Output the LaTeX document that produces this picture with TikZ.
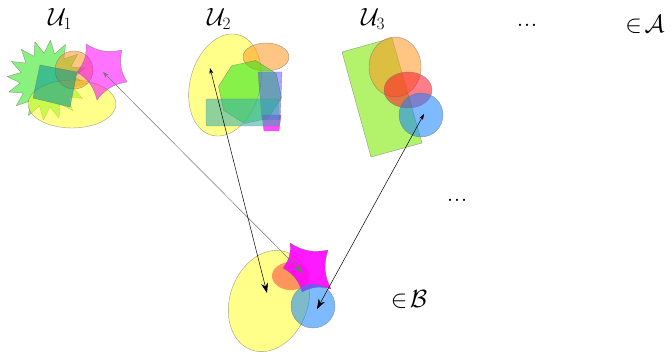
\documentclass[tikz,border=0pt]{standalone}
\usetikzlibrary{arrows.meta,shapes.geometric}
\begin{document}
\begin{tikzpicture}[x=1pt,y=-1pt,
  sh/.style={draw=black!55,line width=0.4pt,fill opacity=0.55,draw opacity=0.7},
  lab/.style={font=\fontsize{24}{28}\selectfont,inner sep=0pt},
  dots/.style={font=\fontsize{28}{30}\selectfont,inner sep=0pt},
  link/.style={line width=0.5pt,{Stealth[length=6pt,width=4pt]}-{Stealth[length=10pt,width=7pt]}}]
\useasboundingbox (0,0) rectangle (672,352);
\definecolor{cyel}{RGB}{255,255,40}
\definecolor{cgrn}{RGB}{40,230,20}
\definecolor{cteal}{RGB}{0,150,150}
\definecolor{corg}{RGB}{255,150,30}
\definecolor{cmag}{RGB}{255,0,255}
\definecolor{cblu}{RGB}{20,130,255}
\definecolor{cred}{RGB}{255,20,40}
\definecolor{clime}{RGB}{160,240,70}
\definecolor{cpur}{RGB}{70,60,255}
% ---------- U1 ----------
\draw[sh,fill=cgrn] plot[samples at={0,...,31},variable=\i]
  ({47+((mod(\i,2)==0)*13+27)*cos(\i*11.25+5)},{80+((mod(\i,2)==0)*13+27)*sin(\i*11.25+5)}) -- cycle;
\draw[sh,fill=cyel] (72,104) ellipse [x radius=44, y radius=24];
\draw[sh,fill=corg] (74,70) circle [radius=19];
\draw[sh,fill=cteal] (40,65) -- (77,72) -- (70,107) -- (33,98) -- cycle;
\draw[sh,fill=cmag] (86,44) to[bend right=22] (122,50) to[bend right=22] (127,82)
  to[bend right=22] (97,100) to[bend right=22] (77,72) to[bend right=22] cycle;
\coordinate (a1) at (103,72);
% ---------- U2 ----------
\draw[sh,fill=cyel,rotate around={-15:(225,85)}] (225,85) ellipse [x radius=35, y radius=52];
\draw[sh,fill=corg] (266,57) ellipse [x radius=23, y radius=14];
\draw[sh,fill=cgrn] (250,92) +(10:32) -- +(55:32) -- +(100:32) -- +(145:32)
  -- +(190:32) -- +(235:32) -- +(280:32) -- +(325:32) -- cycle;
\draw[sh,fill=cmag,fill opacity=0.7] (262,115) -- (281,115) -- (279,131) -- (264,131) -- cycle;
\draw[sh,fill=cpur,fill opacity=0.45] (258,72) -- (282,72) -- (280,120) -- (262,120) -- cycle;
\draw[sh,fill=cteal!80!white,rounded corners=2pt] (206,99) rectangle (279,126);
\coordinate (a2) at (210,68);
% ---------- U3 ----------
\draw[sh,fill=clime,fill opacity=0.8] (342,52) -- (392,38) -- (422,143) -- (371,157) -- cycle;
\draw[sh,fill=corg] (395,67) ellipse [x radius=26, y radius=30];
\draw[sh,fill=cred] (408,90) ellipse [x radius=24, y radius=18];
\draw[sh,fill=cblu] (421,115) circle [radius=22];
\coordinate (a3) at (424,114);
% ---------- B ----------
\draw[sh,fill=cyel,rotate around={-20:(269,301)}] (269,301) ellipse [x radius=39, y radius=52];
\draw[sh,fill=cred,draw=none,fill opacity=0.45] (291,276) ellipse [x radius=19, y radius=14];
\draw[sh,fill=cmag,fill opacity=0.9] (290,243) to[bend right=22] (328,250) to[bend right=22] (331,289)
  to[bend right=22] (302,292) to[bend right=22] (283,268) to[bend right=22] cycle;
\draw[sh,fill=cblu] (313,306) circle [radius=22];
\coordinate (b1) at (303,273);
\coordinate (b2) at (267,293);
\coordinate (b3) at (317,309);
% ---------- links ----------
\draw[link,draw=black!55] (a1) -- (b1);
\draw[link] (a2) -- (b2);
\draw[link] (a3) -- (b3);
% ---------- labels ----------
\node[lab] (u1) at (60,19) {$\mathcal{U}_1$};
\node[lab] (u2) at (219,19) {$\mathcal{U}_2$};
\node[lab] (u3) at (373,19) {$\mathcal{U}_3$};
\node[dots] (d1) at (527,25) {...};
\node[dots] (d2) at (457,200) {...};
\node[lab] (inA) at (645,24) {$\in\!\mathcal{A}$};
\node[lab] (inB) at (409,299) {$\in\!\mathcal{B}$};
\end{tikzpicture}
\end{document}
